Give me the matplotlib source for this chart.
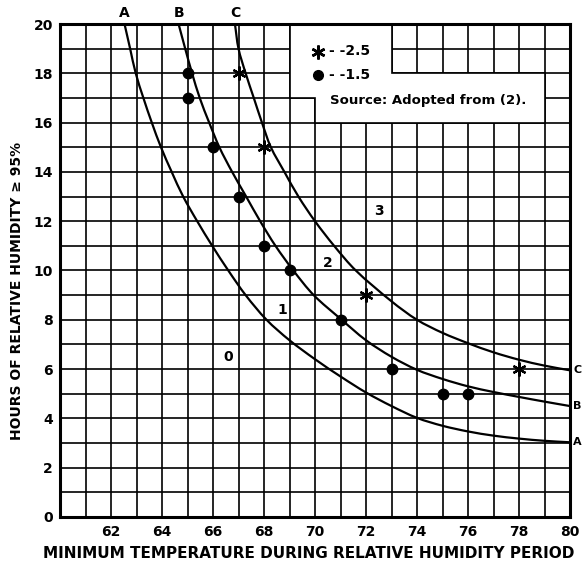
import numpy as np
import matplotlib
matplotlib.use("Agg")
import matplotlib.pyplot as plt
from matplotlib.patches import Polygon, PathPatch
from matplotlib.path import Path

# curve readings (temperature, hours) for the three lines
curve_a_x = [62.53, 62.75, 62.97, 63.27, 63.6, 63.96, 64.38, 64.83, 65.38, 65.97, 66.6, 67.28,
             68.1, 69, 70, 71, 72, 73, 74, 75, 76, 77, 78, 79, 80]
curve_a_y = [20, 19, 18, 17, 16, 15, 14, 13, 12, 11, 10, 9,
             8, 7.17, 6.4, 5.7, 5.05, 4.5, 4.02, 3.7, 3.47, 3.3, 3.18, 3.09, 3.03]

curve_b_x = [64.65, 64.91, 65.18, 65.48, 65.85, 66.25, 66.75, 67.3, 67.85, 68.45, 69.15,
             69.95, 71, 72, 73, 74, 75, 76, 77, 78, 79, 80]
curve_b_y = [20, 19, 18, 17, 16, 15, 14, 13, 12, 11, 10,
             9, 8.04, 7.17, 6.5, 5.97, 5.6, 5.3, 5.07, 4.87, 4.68, 4.5]

curve_c_x = [66.86, 67.0, 67.28, 67.6, 67.92, 68.27, 68.8, 69.35, 70.0, 70.75, 71.6,
             73, 74, 75, 76, 77, 78, 79, 80]
curve_c_y = [20, 19, 18, 17, 16, 15, 14, 13, 12, 11, 10,
             8.75, 8.0, 7.47, 7.05, 6.68, 6.38, 6.14, 5.95]

# observed points
dots_x = [65, 65, 66, 67, 68, 69, 71, 73, 75, 76]
dots_y = [18, 17, 15, 13, 11, 10, 8, 6, 5, 5]
stars_x = [67, 68, 72, 78]
stars_y = [18, 15, 9, 6]

xticks = [62, 64, 66, 68, 70, 72, 74, 76, 78, 80]
yticks = [0, 2, 4, 6, 8, 10, 12, 14, 16, 18, 20]

curve_names = ["A", "B", "C"]


def smooth_path(xs, ys):
    # chord-length catmull-rom drawn as cubic beziers through the read points
    pts = np.column_stack([xs, ys]).astype(float)
    n = len(pts)
    d = np.hypot(*np.diff(pts, axis=0).T)
    tang = np.zeros_like(pts)
    tang[0] = (pts[1] - pts[0]) / d[0]
    tang[-1] = (pts[-1] - pts[-2]) / d[-1]
    for i in range(1, n - 1):
        tang[i] = (pts[i + 1] - pts[i - 1]) / (d[i - 1] + d[i])
    verts = [pts[0]]
    codes = [Path.MOVETO]
    for i in range(n - 1):
        verts += [pts[i] + tang[i] * d[i] / 3, pts[i + 1] - tang[i + 1] * d[i] / 3, pts[i + 1]]
        codes += [Path.CURVE4] * 3
    return Path(verts, codes)


plt.rcParams['font.family'] = "DejaVu Sans"
plt.rcParams['font.weight'] = 'bold'

fig = plt.figure(figsize=(5.82, 5.72), dpi=100)
ax = fig.add_axes([0.1031, 0.0962, 0.8763, 0.8618])

ax.set_xlim(60, 80)
ax.set_ylim(0, 20)
ax.set_xticks(xticks)
ax.set_yticks(yticks)
ax.set_xticks(np.arange(60, 81, 1), minor=True)
ax.set_yticks(np.arange(0, 21, 1), minor=True)
ax.grid(True, which='both', color='black', linewidth=1.2, zorder=0)
ax.set_axisbelow(True)
ax.tick_params(which='both', length=0)
ax.tick_params(axis='x', pad=6, labelsize=10)
ax.tick_params(axis='y', pad=5, labelsize=10)
for lab in ax.get_xticklabels() + ax.get_yticklabels():
    lab.set_fontweight('bold')
for sp in ax.spines.values():
    sp.set_linewidth(2.2)

# white box for the key (keeps grid line edges)
box = Polygon([(69, 20), (73, 20), (73, 18), (79, 18), (79, 16), (70, 16), (70, 17), (69, 17)],
              closed=True, facecolor='white', edgecolor='black', linewidth=1.2, zorder=1)
ax.add_patch(box)

for cx, cy in [(curve_a_x, curve_a_y), (curve_b_x, curve_b_y), (curve_c_x, curve_c_y)]:
    ax.add_patch(PathPatch(smooth_path(cx, cy), fill=False, edgecolor='black',
                           linewidth=1.6, zorder=3))

ax.plot(dots_x, dots_y, 'o', color='black', markersize=7.5, zorder=4)
ax.plot(stars_x, stars_y, marker=(6, 2, 0), linestyle='none', color='black',
        markersize=10, markeredgewidth=1.6, zorder=4)

# key
ax.plot([70.1], [18.88], marker=(6, 2, 0), color='black', markersize=10,
        markeredgewidth=1.8, zorder=4)
ax.plot([70.1], [17.95], 'o', color='black', markersize=7, zorder=4)
ax.text(70.55, 18.9, "- -2.5", fontsize=10, fontweight='bold', va='center', zorder=5)
ax.text(70.55, 17.95, "- -1.5", fontsize=10, fontweight='bold', va='center', zorder=5)
ax.text(70.6, 16.9, "Source: Adopted from (2).", fontsize=9.5, fontweight='bold',
        va='center', zorder=5)

# region numbers
ax.text(66.6, 6.5, "0", fontsize=10, fontweight='bold', ha='center', va='center')
ax.text(68.7, 8.4, "1", fontsize=10, fontweight='bold', ha='center', va='center')
ax.text(70.5, 10.3, "2", fontsize=10, fontweight='bold', ha='center', va='center')
ax.text(72.5, 12.4, "3", fontsize=10, fontweight='bold', ha='center', va='center')

# curve letters at top and right end
for cx, name in zip([curve_a_x, curve_b_x, curve_c_x], curve_names):
    ax.text(cx[0], 20.45, name, fontsize=10, fontweight='bold', ha='center', va='center',
            clip_on=False)
for cy, name in zip([curve_a_y, curve_b_y, curve_c_y], curve_names):
    ax.annotate(name, xy=(80, cy[-1]), xytext=(2.2, 0), textcoords='offset points',
                fontsize=8, fontweight='bold', ha='left', va='center', annotation_clip=False)

fig.text(0.53, 0.033, "MINIMUM TEMPERATURE DURING RELATIVE HUMIDITY PERIOD",
         fontsize=11, fontweight='bold', ha='center', va='center')
fig.text(0.029, 0.491, "HOURS OF RELATIVE HUMIDITY \u2265 95%", rotation=90,
         fontsize=10, fontweight='bold', ha='center', va='center')

fig.savefig("out.png", dpi=100)
